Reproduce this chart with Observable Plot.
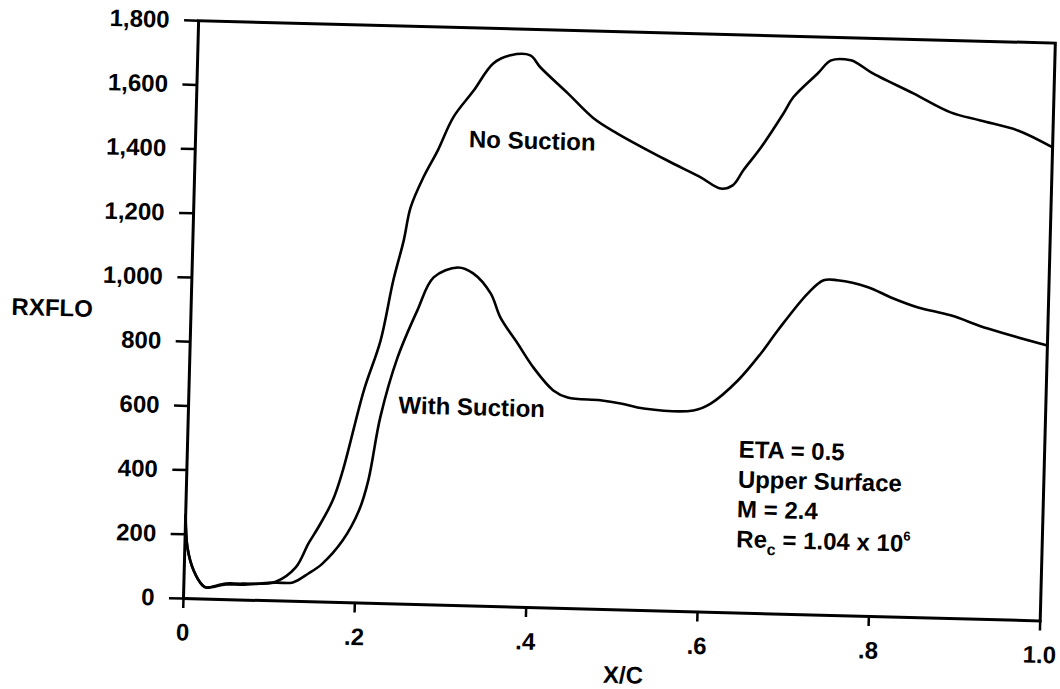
<!DOCTYPE html>
<html>
<head>
<meta charset="utf-8">
<script src="https://cdn.jsdelivr.net/npm/d3@7"></script>
<script src="https://cdn.jsdelivr.net/npm/@observablehq/plot@0.6"></script>
<style>
  html, body { margin: 0; padding: 0; background: #fff; }
  #chart { width: 1060px; height: 689px; overflow: hidden; }
  #chart svg {
    display: block;
    font: bold 24px "Liberation Sans", Arial, Helvetica, sans-serif;
    color: #000;
    background: #fff;
    overflow: visible;
    transform: rotate(1.5deg);
    transform-origin: 183px 598px;
  }
</style>
</head>
<body>
<div id="chart"></div>
<script>
// ---- tick values and labels ----
const xTicks = [0, 0.2, 0.4, 0.6, 0.8, 1.0];
const xTickLabels = ["0", ".2", ".4", ".6", ".8", "1.0"];
const yTicks = [0, 200, 400, 600, 800, 1000, 1200, 1400, 1600, 1800];

// ---- series: No Suction ----
const xNoSuction = [0.000, 0.003, 0.011, 0.022, 0.026, 0.049, 0.068, 0.107, 0.130, 0.144,
  0.155, 0.171, 0.182, 0.204, 0.222, 0.235, 0.246, 0.253, 0.267, 0.283,
  0.300, 0.323, 0.345, 0.365, 0.388, 0.400, 0.433, 0.464, 0.492, 0.551,
  0.590, 0.614, 0.628, 0.640, 0.660, 0.685, 0.696, 0.724, 0.739, 0.762,
  0.770, 0.786, 0.836, 0.880, 0.915, 0.959, 1.000];
const yNoSuction = [260, 160, 88, 42, 36, 50, 51, 60, 106, 181,
  232, 317, 412, 662, 819, 1007, 1133, 1236, 1331, 1416,
  1520, 1605, 1691, 1718, 1719, 1683, 1604, 1528, 1483, 1403,
  1354, 1320, 1331, 1379, 1452, 1559, 1610, 1687, 1728, 1730,
  1721, 1694, 1632, 1576, 1553, 1525, 1475];

// ---- series: With Suction ----
const xWithSuction = [0.000, 0.003, 0.011, 0.022, 0.026, 0.049, 0.068, 0.107, 0.127, 0.145,
  0.161, 0.184, 0.202, 0.212, 0.224, 0.242, 0.264, 0.282, 0.310, 0.328,
  0.349, 0.361, 0.382, 0.401, 0.425, 0.442, 0.480, 0.504, 0.531, 0.589,
  0.609, 0.640, 0.666, 0.685, 0.719, 0.737, 0.753, 0.789, 0.816, 0.848,
  0.886, 0.930, 1.000];
const yWithSuction = [260, 160, 88, 42, 36, 47, 48, 57, 59, 88,
  120, 194, 288, 383, 580, 765, 916, 1020, 1053, 1036,
  975, 901, 821, 748, 678, 657, 651, 643, 629, 627,
  650, 724, 810, 883, 1001, 1043, 1044, 1025, 995, 966,
  944, 906, 858];

// ---- text ----
const seriesLabels = ["No Suction", "With Suction"];
const noteLines = ["ETA = 0.5", "Upper Surface", "M = 2.4"];
const reLine = "Rec = 1.04 x 106";
const xLabel = "X/C";
const yLabel = "RXFLO";

const noSuction = xNoSuction.map((x, i) => ({x, y: yNoSuction[i]}));
const withSuction = xWithSuction.map((x, i) => ({x, y: yWithSuction[i]}));

const chart = Plot.plot({
  width: 1060,
  height: 689,
  marginLeft: 183,
  marginRight: 20,
  marginTop: 20,
  marginBottom: 91,
  x: {domain: [0, 1]},
  y: {domain: [0, 1800]},
  marks: [
    Plot.frame({stroke: "#000", strokeWidth: 3}),
    Plot.axisX({
      ticks: xTicks,
      tickFormat: d => xTickLabels[xTicks.indexOf(d)],
      tickSize: 10, tickPadding: 15, strokeWidth: 2.5, label: null
    }),
    Plot.axisY({
      ticks: yTicks,
      tickFormat: d3.format(","),
      tickSize: 14, tickPadding: 15, strokeWidth: 2.5, label: null
    }),
    Plot.line(noSuction, {x: "x", y: "y", curve: "catmull-rom", stroke: "#000", strokeWidth: 2.6}),
    Plot.line(withSuction, {x: "x", y: "y", curve: "catmull-rom", stroke: "#000", strokeWidth: 2.6}),
    Plot.text([seriesLabels[0]], {x: 0.319, y: 1428, text: d => d, textAnchor: "start", lineAnchor: "bottom", fontSize: 24}),
    Plot.text([seriesLabels[1]], {x: 0.245, y: 594, text: d => d, textAnchor: "start", lineAnchor: "bottom", fontSize: 24}),
    Plot.text(noteLines, {x: 0.643, y: (d, i) => 484 - i * 93, text: d => d, textAnchor: "start", lineAnchor: "bottom", fontSize: 24}),
    Plot.text([reLine], {x: 0.643, y: 205, text: d => d, textAnchor: "start", lineAnchor: "bottom", fontSize: 24, className: "re-label"}),
    Plot.text([xLabel], {x: 0.515, y: -204, text: d => d, fontSize: 24}),
    Plot.text([yLabel], {x: -0.162, y: 893, text: d => d, fontSize: 24})
  ]
});

const re = chart.querySelector(".re-label text");
if (re) {
  re.innerHTML = 'Re<tspan dy="7" font-size="16">c</tspan><tspan dy="-7"> = 1.04 x 10</tspan><tspan dy="-11" font-size="13">6</tspan>';
}

document.getElementById("chart").appendChild(chart);
</script>
</body>
</html>
